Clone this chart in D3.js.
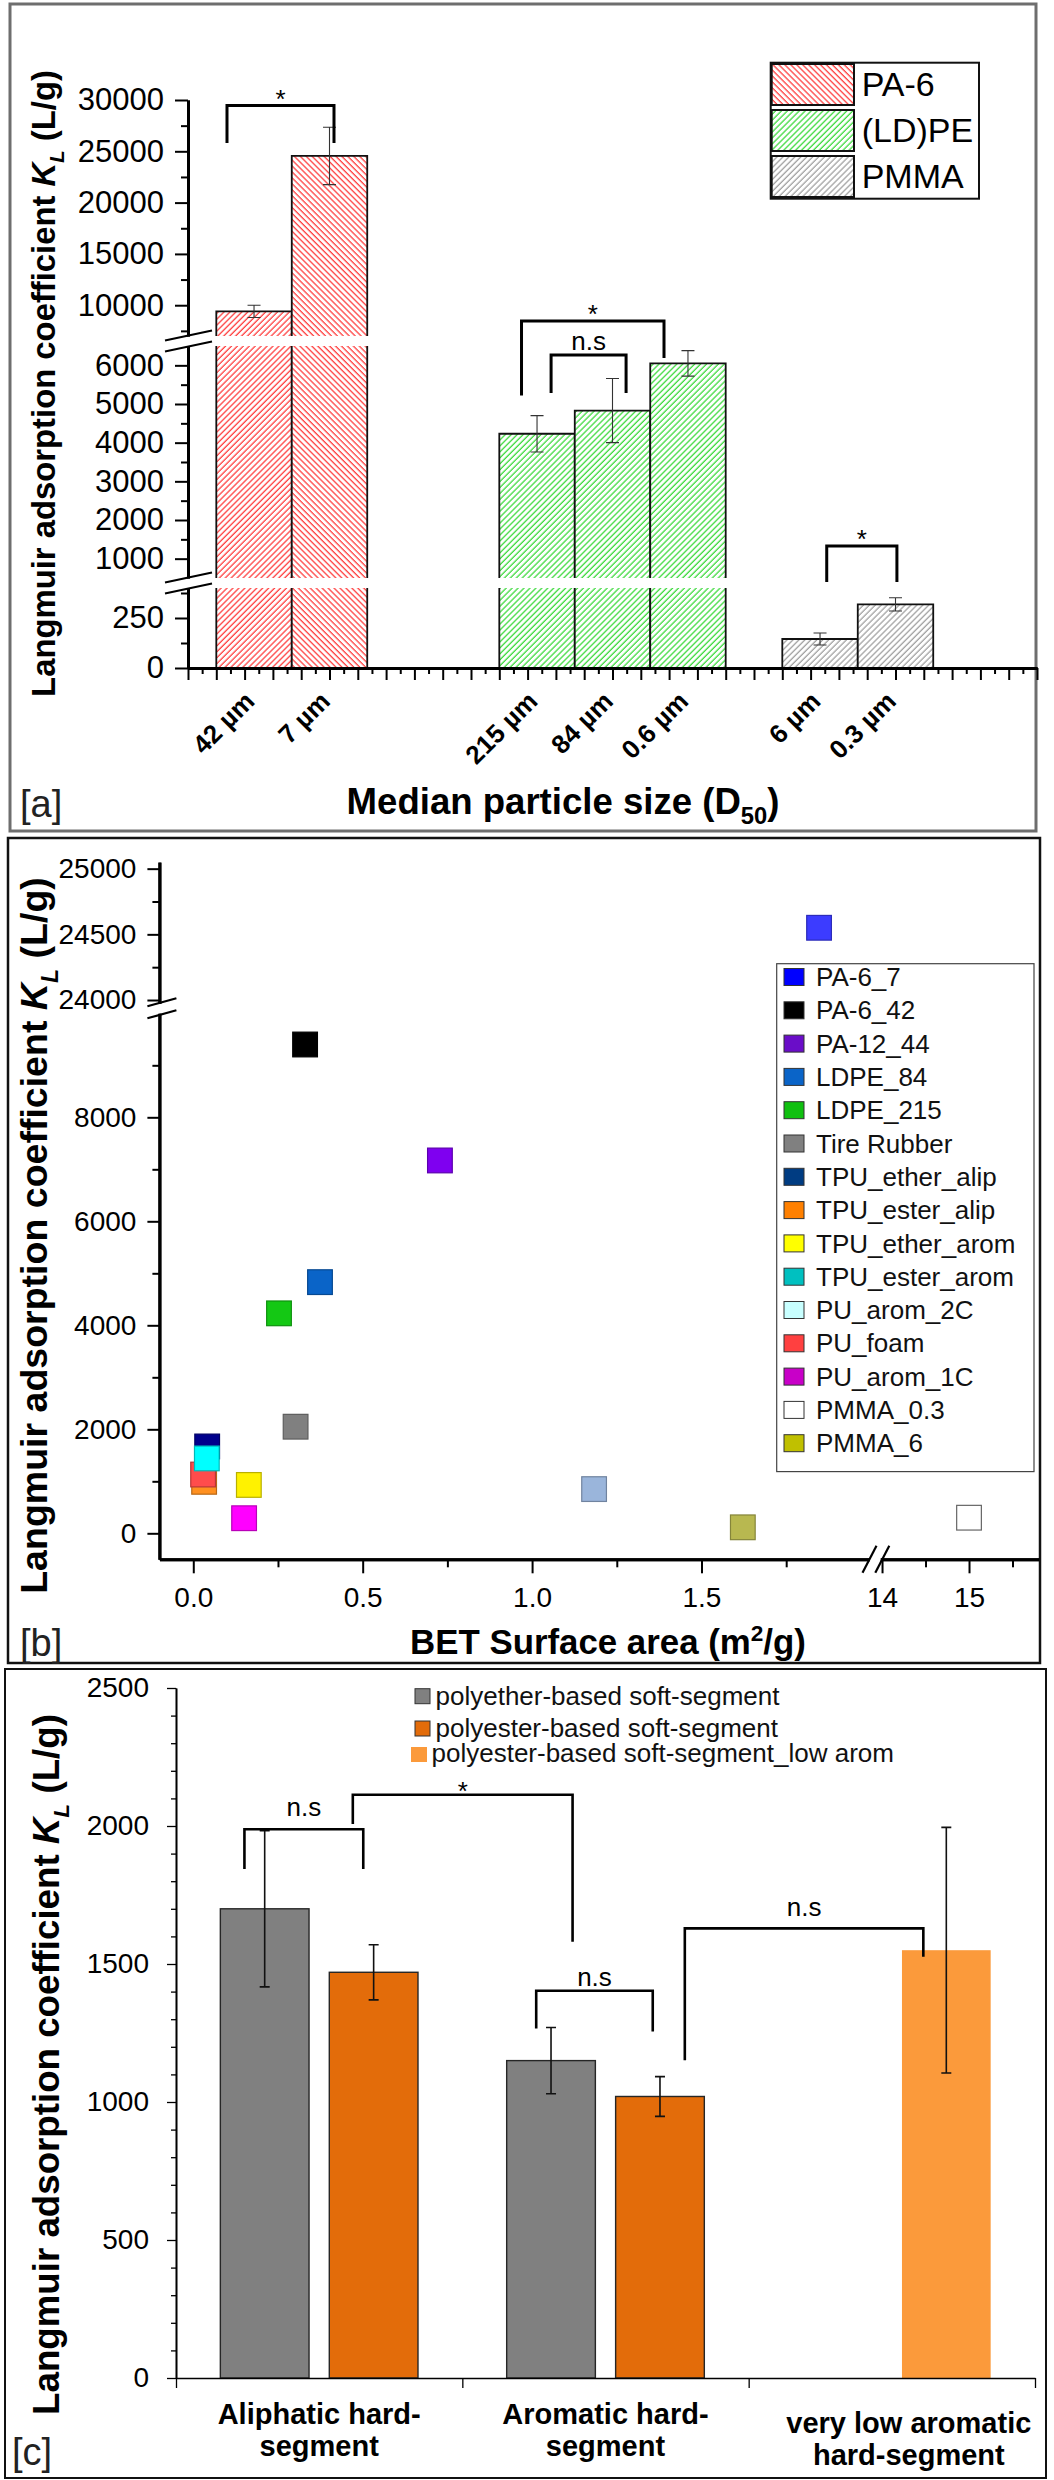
<!DOCTYPE html>
<html>
<head>
<meta charset="utf-8">
<script src="https://cdn.jsdelivr.net/npm/d3@7/dist/d3.min.js"></script>
<style>
html,body{margin:0;padding:0;background:#fff;}
svg text{font-family:"Liberation Sans", Arial, Helvetica, sans-serif;}
</style>
</head>
<body>
<svg id="fig" width="1054" height="2480" xmlns="http://www.w3.org/2000/svg"></svg>
<script>
// ================= DATA =================
// Panel [a] : Langmuir K_L vs median particle size
const aGroups = ["PA-6", "(LD)PE", "PMMA"];
const aSizes = ["42 µm", "7 µm", "215 µm", "84 µm", "0.6 µm", "6 µm", "0.3 µm"];
const aGroupOf = ["PA-6", "PA-6", "(LD)PE", "(LD)PE", "(LD)PE", "PMMA", "PMMA"];
const aKL = [9400, 24550, 4230, 4830, 6050, 145, 318];
const aErr = [600, 2800, 470, 830, 330, 30, 33];
const aYMajor = [0, 250, 1000, 2000, 3000, 4000, 5000, 6000, 10000, 15000, 20000, 25000, 30000];
const aYMinor = [125, 375, 1500, 2500, 3500, 4500, 5500, 7500, 12500, 17500, 22500, 27500];
const aSigLabels = ["*", "*", "n.s", "*"];

// Panel [b] : Langmuir K_L vs BET surface area
const bNames = ["PA-6_7", "PA-6_42", "PA-12_44", "LDPE_84", "LDPE_215", "Tire Rubber", "TPU_ether_alip",
  "TPU_ester_alip", "TPU_ether_arom", "TPU_ester_arom", "PU_arom_2C", "PU_foam", "PU_arom_1C", "PMMA_0.3", "PMMA_6"];
const bLegendColors = ["#0000ff", "#000000", "#6a0dc8", "#0a64c8", "#10c010", "#808080", "#003c82",
  "#ff8000", "#ffff00", "#00c0c0", "#c8ffff", "#ff4040", "#c800c8", "#ffffff", "#c0c000"];
const bBET = [1.847, 0.330, 0.728, 0.374, 0.253, 0.302, 0.041, 0.032, 0.164, 0.040, 1.183, 0.029, 0.150, 15.0, 1.622];
const bKL = [24550, 9400, 7170, 4830, 4230, 2050, 1670, 990, 930, 1440, 850, 1130, 290, 300, 115];
const bPointColors = ["#3c3cff", "#000000", "#7f00f0", "#0a64c8", "#14c814", "#808080", "#00008c",
  "#ff9020", "#fff200", "#00ffff", "#9ab5db", "#ff4c4c", "#ff00ff", "#ffffff", "#b8b850"];
const bXMajor = [0, 0.5, 1.0, 1.5, 14, 15];
const bXMinor = [0.25, 0.75, 1.25, 1.75, 14.5, 15.5];
const bYMajor = [0, 2000, 4000, 6000, 8000, 24000, 24500, 25000];
const bYMinor = [1000, 3000, 5000, 7000, 9000, 24250, 24750];

// Panel [c] : TPU hard / soft segment
const cCategories = [["Aliphatic hard-", "segment"], ["Aromatic hard-", "segment"], ["very low aromatic", "hard-segment"]];
const cSeries = ["polyether-based soft-segment", "polyester-based soft-segment", "polyester-based soft-segment_low arom"];
const cEther = [1700, 1150, null];
const cEster = [1470, 1020, null];
const cEsterLow = [null, null, 1550];
const cEtherErr = [283, 120, null];
const cEsterErr = [100, 72, null];
const cEsterLowErr = [null, null, 445];
const cYMajor = [0, 500, 1000, 1500, 2000, 2500];
const cSigLabels = ["n.s", "*", "n.s", "n.s"];

// ================= HELPERS =================
const svg = d3.select("#fig");
svg.append("rect").attr("width", 1054).attr("height", 2480).attr("fill", "#fff");
const defs = svg.append("defs");

function mkSegs(arr) {
  return arr.map(([d0, d1, r0, r1]) => ({dom: [d0, d1], rng: [r0, r1], sc: d3.scaleLinear().domain([d0, d1]).range([r0, r1])}));
}
function piece(v, segs) {
  for (const s of segs) if (v >= s.dom[0] && v <= s.dom[1]) return s.sc(v);
  for (let i = 0; i < segs.length - 1; i++) {
    const a = segs[i], b = segs[i + 1];
    if (v > a.dom[1] && v < b.dom[0]) {
      const t = (v - a.dom[1]) / (b.dom[0] - a.dom[1]);
      return a.sc(a.dom[1]) + t * (b.sc(b.dom[0]) - a.sc(a.dom[1]));
    }
  }
  return v < segs[0].dom[0] ? segs[0].sc(v) : segs[segs.length - 1].sc(v);
}
function styleAxis(g, lw, fs, tw) {
  g.select(".domain").attr("stroke", "#000").attr("stroke-width", lw);
  g.selectAll(".tick line").attr("stroke", "#000").attr("stroke-width", tw || 2);
  g.selectAll(".tick text").attr("font-size", fs).attr("fill", "#000");
}
function hatch(id, color, angle) {
  const s = 4.2;
  const p = defs.append("pattern").attr("id", id).attr("patternUnits", "userSpaceOnUse")
    .attr("width", s).attr("height", s).attr("patternTransform", `rotate(${angle})`);
  p.append("rect").attr("width", s).attr("height", s).attr("fill", "#fff");
  p.append("line").attr("x1", 1).attr("y1", 0).attr("x2", 1).attr("y2", s).attr("stroke", color).attr("stroke-width", 1.2);
}
function klTitle(parent, bx, cy, len) {
  const fs = 30;
  const t = parent.append("text").attr("text-anchor", "middle").attr("font-weight", "bold")
    .attr("font-size", fs).attr("fill", "#000");
  t.append("tspan").text("Langmuir adsorption coefficient ");
  t.append("tspan").attr("font-style", "italic").text("K");
  t.append("tspan").attr("font-style", "italic").attr("font-size", fs * 0.62).attr("dy", fs * 0.28).text("L");
  t.append("tspan").attr("dy", -fs * 0.28).text(" (L/g)");
  const k = len / t.node().getComputedTextLength();
  t.attr("transform", `translate(${bx},${cy}) rotate(-90) scale(${k})`);
}
function fitTitle(parent, parts, cx, by, len) {
  const fs = 30;
  const t = parent.append("text").attr("text-anchor", "middle").attr("font-weight", "bold")
    .attr("font-size", fs).attr("fill", "#000");
  let shift = 0;
  parts.forEach(p => {
    const sp = t.append("tspan").text(p.t);
    let d = 0;
    if (p.sub) { d = fs * 0.28; sp.attr("font-size", fs * 0.65); }
    if (p.sup) { d = -fs * 0.38; sp.attr("font-size", fs * 0.65); }
    sp.attr("dy", d - shift);
    shift = d;
  });
  const k = len / t.node().getComputedTextLength();
  t.attr("transform", `translate(${cx},${by}) scale(${k})`);
}
function errBar(g, x, y1, y2, cap, lw, col) {
  g.append("path").attr("d", `M${x},${y1}V${y2}M${x - cap / 2},${y1}H${x + cap / 2}M${x - cap / 2},${y2}H${x + cap / 2}`)
    .attr("stroke", col).attr("stroke-width", lw).attr("fill", "none");
}
function bracket(g, x1, x2, yTop, yl1, yl2, lw) {
  g.append("path").attr("d", `M${x1},${yl1}V${yTop}H${x2}V${yl2}`)
    .attr("stroke", "#000").attr("stroke-width", lw).attr("fill", "none");
}

hatch("hRedF", "#ff3030", 45);   // "/"
hatch("hRedB", "#ff3030", -45);  // "\"
hatch("hGreen", "#2fd82f", 45);
hatch("hGray", "#9a9a9a", 45);

// ================= PANEL A =================
const gA = svg.append("g");
gA.append("rect").attr("x", 10).attr("y", 4).attr("width", 1026).attr("height", 827)
  .attr("fill", "none").attr("stroke", "#6e6e6e").attr("stroke-width", 3);

const aAxisX = 188, aBaseY = 668;
const xA = d3.scaleLinear().domain([0, 30]).range([aAxisX, 1037]);
const aSegs = mkSegs([[0, 400, 668, 588], [500, 6500, 578, 346], [7000, 30000, 336, 100]]);
const yA = v => piece(v, aSegs);
const aBarW = 8 / 3;

function aPattern(i) {
  const g = aGroupOf[i];
  if (g === "PA-6") return i === 0 ? "hRedF" : "hRedB";
  if (g === "(LD)PE") return "hGreen";
  return "hGray";
}
const aCenters = [];
aKL.forEach((v, i) => {
  const gi = aGroups.indexOf(aGroupOf[i]);
  const k = aGroupOf.slice(0, i).filter(g => g === aGroupOf[i]).length;
  const u0 = gi * 10 + 1 + k * aBarW;
  const x0 = xA(u0), x1 = xA(u0 + aBarW);
  aCenters.push((x0 + x1) / 2);
  aSegs.forEach(s => {
    if (v <= s.dom[0]) return;
    const top = Math.min(v, s.dom[1]);
    const yt = s.sc(top), yb = s.sc(s.dom[0]);
    gA.append("rect").attr("x", x0).attr("y", yt).attr("width", x1 - x0).attr("height", yb - yt)
      .attr("fill", `url(#${aPattern(i)})`);
    let d = `M${x0},${yb}V${yt}`;
    d += (v <= s.dom[1]) ? `H${x1}` : `M${x1},${yt}`;
    d += `V${yb}`;
    gA.append("path").attr("d", d).attr("fill", "none").attr("stroke", "#111").attr("stroke-width", 1.8);
  });
  errBar(gA, (x0 + x1) / 2, yA(v + aErr[i]), yA(v - aErr[i]), 13, 1.1, "#333");
});

// y axis segments
aSegs.forEach(s => {
  const maj = aYMajor.filter(t => t >= s.dom[0] && t <= s.dom[1]);
  const mn = aYMinor.filter(t => t >= s.dom[0] && t <= s.dom[1]);
  const gm = gA.append("g").attr("transform", `translate(${aAxisX},0)`)
    .call(d3.axisLeft(s.sc).tickValues(mn).tickSize(7).tickSizeOuter(0).tickFormat(""));
  styleAxis(gm, 3, 31);
  const g = gA.append("g").attr("transform", `translate(${aAxisX},0)`)
    .call(d3.axisLeft(s.sc).tickValues(maj).tickSize(13).tickPadding(11).tickSizeOuter(0).tickFormat(d3.format("d")));
  styleAxis(g, 3, 31);
});
// break marks
for (let i = 0; i < aSegs.length - 1; i++) {
  const gy = (aSegs[i].rng[1] + aSegs[i + 1].rng[0]) / 2;
  [-5.5, 5.5].forEach(d => {
    gA.append("line").attr("x1", aAxisX - 23).attr("y1", gy + d + 5).attr("x2", aAxisX + 24).attr("y2", gy + d - 5)
      .attr("stroke", "#000").attr("stroke-width", 2);
  });
}
// x axis
const gAx = gA.append("g").attr("transform", `translate(0,${aBaseY})`)
  .call(d3.axisBottom(xA).tickValues(d3.range(0, 31)).tickSize(12).tickSizeOuter(0).tickFormat(""));
styleAxis(gAx, 3, 20);
const gAxm = gA.append("g").attr("transform", `translate(0,${aBaseY})`)
  .call(d3.axisBottom(xA).tickValues(d3.range(0.5, 30, 1)).tickSize(6).tickSizeOuter(0).tickFormat(""));
styleAxis(gAxm, 3, 20);

aSizes.forEach((s, i) => {
  gA.append("text").attr("transform", `translate(${aCenters[i] + 2},${aBaseY + 35}) rotate(-45)`)
    .attr("text-anchor", "end").attr("font-size", 26).attr("font-weight", "bold").attr("fill", "#000").text(s);
});

// significance brackets (x in axis units, y in data units)
const aSigPos = [
  {x1: 1.378, x2: 5.159, top: 29460, l1: 25800, l2: 25800},
  {x1: 11.785, x2: 16.82, top: 8460, l1: 5220, l2: 6190},
  {x1: 12.83, x2: 15.48, top: 6267, l1: 5284, l2: 5284},
  {x1: 22.57, x2: 25.05, top: 1328, l1: 460, l2: 460}
];
aSigPos.forEach((p, i) => {
  const x1 = xA(p.x1), x2 = xA(p.x2), yt = yA(p.top);
  bracket(gA, x1, x2, yt, yA(p.l1), yA(p.l2), 3);
  const lab = aSigLabels[i];
  gA.append("text").attr("x", (x1 + x2) / 2).attr("y", lab === "*" ? yt + 2 : yt - 5)
    .attr("text-anchor", "middle").attr("font-size", 26).attr("fill", "#000").text(lab);
});

// legend a
gA.append("rect").attr("x", 770.7).attr("y", 62.7).attr("width", 208.3).attr("height", 136)
  .attr("fill", "#fff").attr("stroke", "#111").attr("stroke-width", 2);
const aLegPat = ["hRedB", "hGreen", "hGray"];
aGroups.forEach((name, i) => {
  const y0 = 64 + i * 46;
  gA.append("rect").attr("x", 771.7).attr("y", y0).attr("width", 82.3).attr("height", 41)
    .attr("fill", `url(#${aLegPat[i]})`).attr("stroke", "#111").attr("stroke-width", 2);
  gA.append("text").attr("x", 861.7).attr("y", y0 + 20.5).attr("dy", "0.35em").attr("font-size", 34)
    .attr("fill", "#000").text(name);
});

klTitle(gA, 55, 383.5, 627);
fitTitle(gA, [{t: "Median particle size (D"}, {t: "50", sub: true}, {t: ")"}], 563, 813.6, 433);
gA.append("text").attr("x", 20).attr("y", 817).attr("font-size", 38).attr("fill", "#222").text("[a]");

// ================= PANEL B =================
const gB = svg.append("g");
gB.append("rect").attr("x", 8).attr("y", 838).attr("width", 1032).attr("height", 825)
  .attr("fill", "none").attr("stroke", "#111").attr("stroke-width", 2.5);

const bAxisX = 159.4, bAxisY = 1559.3;
const bYSegs = mkSegs([[-500, 10000, 1559.3, 1013.3], [23975, 25050, 1003.3, 862.1]]);
const bXSegs = mkSegs([[-0.1, 1.995, 159.4, 869.2], [13.98, 15.8, 880.3, 1038.6]]);
const yB = v => piece(v, bYSegs);
const xB = v => piece(v, bXSegs);

bYSegs.forEach(s => {
  const maj = bYMajor.filter(t => t >= s.dom[0] && t <= s.dom[1]);
  const mn = bYMinor.filter(t => t >= s.dom[0] && t <= s.dom[1]);
  const gm = gB.append("g").attr("transform", `translate(${bAxisX},0)`)
    .call(d3.axisLeft(s.sc).tickValues(mn).tickSize(7).tickSizeOuter(0).tickFormat(""));
  styleAxis(gm, 3, 28);
  const g = gB.append("g").attr("transform", `translate(${bAxisX},0)`)
    .call(d3.axisLeft(s.sc).tickValues(maj).tickSize(12).tickPadding(11).tickSizeOuter(0).tickFormat(d3.format("d")));
  styleAxis(g, 3, 28);
});
bXSegs.forEach((s, si) => {
  const maj = bXMajor.filter(t => t >= s.dom[0] && t <= s.dom[1]);
  const mn = bXMinor.filter(t => t >= s.dom[0] && t <= s.dom[1]);
  const gm = gB.append("g").attr("transform", `translate(0,${bAxisY})`)
    .call(d3.axisBottom(s.sc).tickValues(mn).tickSize(8).tickSizeOuter(0).tickFormat(""));
  styleAxis(gm, 3, 28);
  const g = gB.append("g").attr("transform", `translate(0,${bAxisY})`)
    .call(d3.axisBottom(s.sc).tickValues(maj).tickSize(14).tickPadding(14).tickSizeOuter(0)
      .tickFormat(si === 0 ? d3.format(".1f") : d3.format("d")));
  styleAxis(g, 3, 28);
});
// y break
{
  const gc = (bYSegs[0].rng[1] + bYSegs[1].rng[0]) / 2;
  [-6, 6].forEach(d => gB.append("line").attr("x1", bAxisX - 12).attr("y1", gc + d + 4)
    .attr("x2", bAxisX + 17).attr("y2", gc + d - 4).attr("stroke", "#000").attr("stroke-width", 2.2));
}
// x break
{
  [bXSegs[0].rng[1] + 0.3, bXSegs[1].rng[0] + 2].forEach(xc => gB.append("line")
    .attr("x1", xc - 7).attr("y1", bAxisY + 13.5).attr("x2", xc + 7).attr("y2", bAxisY - 13.5)
    .attr("stroke", "#000").attr("stroke-width", 2.2));
}
// points (draw order chosen so overlaps match)
const bDrawOrder = [7, 11, 6, 9, 0, 1, 2, 3, 4, 5, 8, 10, 12, 13, 14];
const bSq = 24.7;
bDrawOrder.forEach(i => {
  const c = bPointColors[i];
  const st = i === 13 ? "#666" : d3.color(c).darker(0.9).formatHex();
  gB.append("rect").attr("x", xB(bBET[i]) - bSq / 2).attr("y", yB(bKL[i]) - bSq / 2)
    .attr("width", bSq).attr("height", bSq).attr("fill", c).attr("stroke", st).attr("stroke-width", 1.2);
});
// legend b
gB.append("rect").attr("x", 776.7).attr("y", 963.7).attr("width", 257.3).attr("height", 507.9)
  .attr("fill", "#fff").attr("stroke", "#444").attr("stroke-width", 1.2);
bNames.forEach((n, i) => {
  const cy = 977 + i * 33.3;
  gB.append("rect").attr("x", 784).attr("y", cy - 8.5).attr("width", 20).attr("height", 17)
    .attr("fill", bLegendColors[i]).attr("stroke", "#333").attr("stroke-width", 1);
  gB.append("text").attr("x", 816).attr("y", cy).attr("dy", "0.35em").attr("font-size", 26)
    .attr("fill", "#111").text(n);
});
klTitle(gB, 47, 1235.5, 717);
fitTitle(gB, [{t: "BET Surface area (m"}, {t: "2", sup: true}, {t: "/g)"}], 608, 1654, 396);
gB.append("text").attr("x", 20).attr("y", 1656).attr("font-size", 38).attr("fill", "#222").text("[b]");

// ================= PANEL C =================
const gC = svg.append("g");
gC.append("rect").attr("x", 5).attr("y", 1669).attr("width", 1041).attr("height", 809)
  .attr("fill", "none").attr("stroke", "#111").attr("stroke-width", 2);

const cAxisX = 176, cBaseY = 2378;
const yC = d3.scaleLinear().domain([0, 2500]).range([cBaseY, 1688]);
const xC = d3.scaleBand().domain(d3.range(cCategories.length)).range([cAxisX, 1035]).padding(0);
const xCin = d3.scaleBand().domain(["ether", "ester"]).range([0, xC.bandwidth()]).paddingInner(0.186).paddingOuter(0.407);
const cSlot = ["ether", "ester", "ester"];
const cColors = ["#808080", "#e36c0a", "#fb9a3b"];
const cVals = [cEther, cEster, cEsterLow];
const cErrs = [cEtherErr, cEsterErr, cEsterLowErr];

cVals.forEach((vals, si) => {
  vals.forEach((v, gi) => {
    if (v == null) return;
    const x0 = xC(gi) + xCin(cSlot[si]);
    const bw = xCin.bandwidth();
    const r = gC.append("rect").attr("x", x0).attr("y", yC(v)).attr("width", bw).attr("height", cBaseY - yC(v))
      .attr("fill", cColors[si]);
    if (si < 2) r.attr("stroke", "#262626").attr("stroke-width", 1.4);
    const e = cErrs[si][gi];
    errBar(gC, x0 + bw / 2, yC(v + e), yC(v - e), 10, 1.6, "#111");
  });
});

const gCy = gC.append("g").attr("transform", `translate(${cAxisX},0)`)
  .call(d3.axisLeft(yC).tickValues(d3.range(100, 2500, 100).filter(t => t % 500 !== 0)).tickSize(5).tickSizeOuter(0).tickFormat(""));
styleAxis(gCy, 1.6, 28, 1.3);
const gCy2 = gC.append("g").attr("transform", `translate(${cAxisX},0)`)
  .call(d3.axisLeft(yC).tickValues(cYMajor).tickSize(9).tickPadding(18).tickSizeOuter(0).tickFormat(d3.format("d")));
styleAxis(gCy2, 1.6, 28, 1.3);
const xCedge = d3.scaleLinear().domain([0, cCategories.length]).range(xC.range());
const gCx = gC.append("g").attr("transform", `translate(0,${cBaseY})`)
  .call(d3.axisBottom(xCedge).tickValues(d3.range(0, cCategories.length + 1)).tickSize(10).tickSizeOuter(0).tickFormat(""));
styleAxis(gCx, 1.6, 28, 1.3);

// category labels
const cLabelShift = [{dx: 0, dy: 0}, {dx: 0, dy: 0}, {dx: 17, dy: 9}];
cCategories.forEach((lines, gi) => {
  const cx = xC(gi) + xC.bandwidth() / 2 + cLabelShift[gi].dx;
  lines.forEach((ln, li) => {
    gC.append("text").attr("x", cx).attr("y", 2424 + li * 32 + cLabelShift[gi].dy)
      .attr("text-anchor", "middle").attr("font-size", 29).attr("font-weight", "bold").attr("fill", "#000").text(ln);
  });
});

// significance brackets (group + fraction of group width)
const cSigPos = [
  {g1: 0, f1: 0.239, g2: 0, f2: 0.654, top: 1988, l1: 1844, l2: 1844, gap: 13},
  {g1: 0, f1: 0.6175, g2: 1, f2: 0.385, top: 2113, l1: 2007, l2: 1581, gap: 10},
  {g1: 1, f1: 0.258, g2: 1, f2: 0.665, top: 1403, l1: 1266, l2: 1255, gap: 5},
  {g1: 1, f1: 0.777, g2: 2, f2: 0.61, top: 1629, l1: 1151, l2: 1526, gap: 12}
];
cSigPos.forEach((p, i) => {
  const x1 = xC(p.g1) + p.f1 * xC.bandwidth(), x2 = xC(p.g2) + p.f2 * xC.bandwidth();
  const yt = yC(p.top);
  bracket(gC, x1, x2, yt, yC(p.l1), yC(p.l2), 2.6);
  const lab = cSigLabels[i];
  gC.append("text").attr("x", (x1 + x2) / 2).attr("y", lab === "*" ? yt + 5 : yt - p.gap)
    .attr("text-anchor", "middle").attr("font-size", 26).attr("fill", "#000").text(lab);
});

// legend c
const cLeg = [
  {x: 415, y: 1688.7, w: 15, tx: 435.5, ty: 1705, stroke: true},
  {x: 415, y: 1721, w: 15, tx: 435.5, ty: 1736.6, stroke: true},
  {x: 411, y: 1747, w: 16, tx: 431.5, ty: 1762, stroke: false}
];
cSeries.forEach((s, i) => {
  const L = cLeg[i];
  const r = gC.append("rect").attr("x", L.x).attr("y", L.y).attr("width", L.w).attr("height", 15).attr("fill", cColors[i]);
  if (L.stroke) r.attr("stroke", "#333").attr("stroke-width", 1);
  gC.append("text").attr("x", L.tx).attr("y", L.ty).attr("font-size", 26).attr("fill", "#111").text(s);
});

klTitle(gC, 59, 2064.5, 701);
gC.append("text").attr("x", 12).attr("y", 2465).attr("font-size", 38).attr("fill", "#222").text("[c]");
</script>
</body>
</html>
